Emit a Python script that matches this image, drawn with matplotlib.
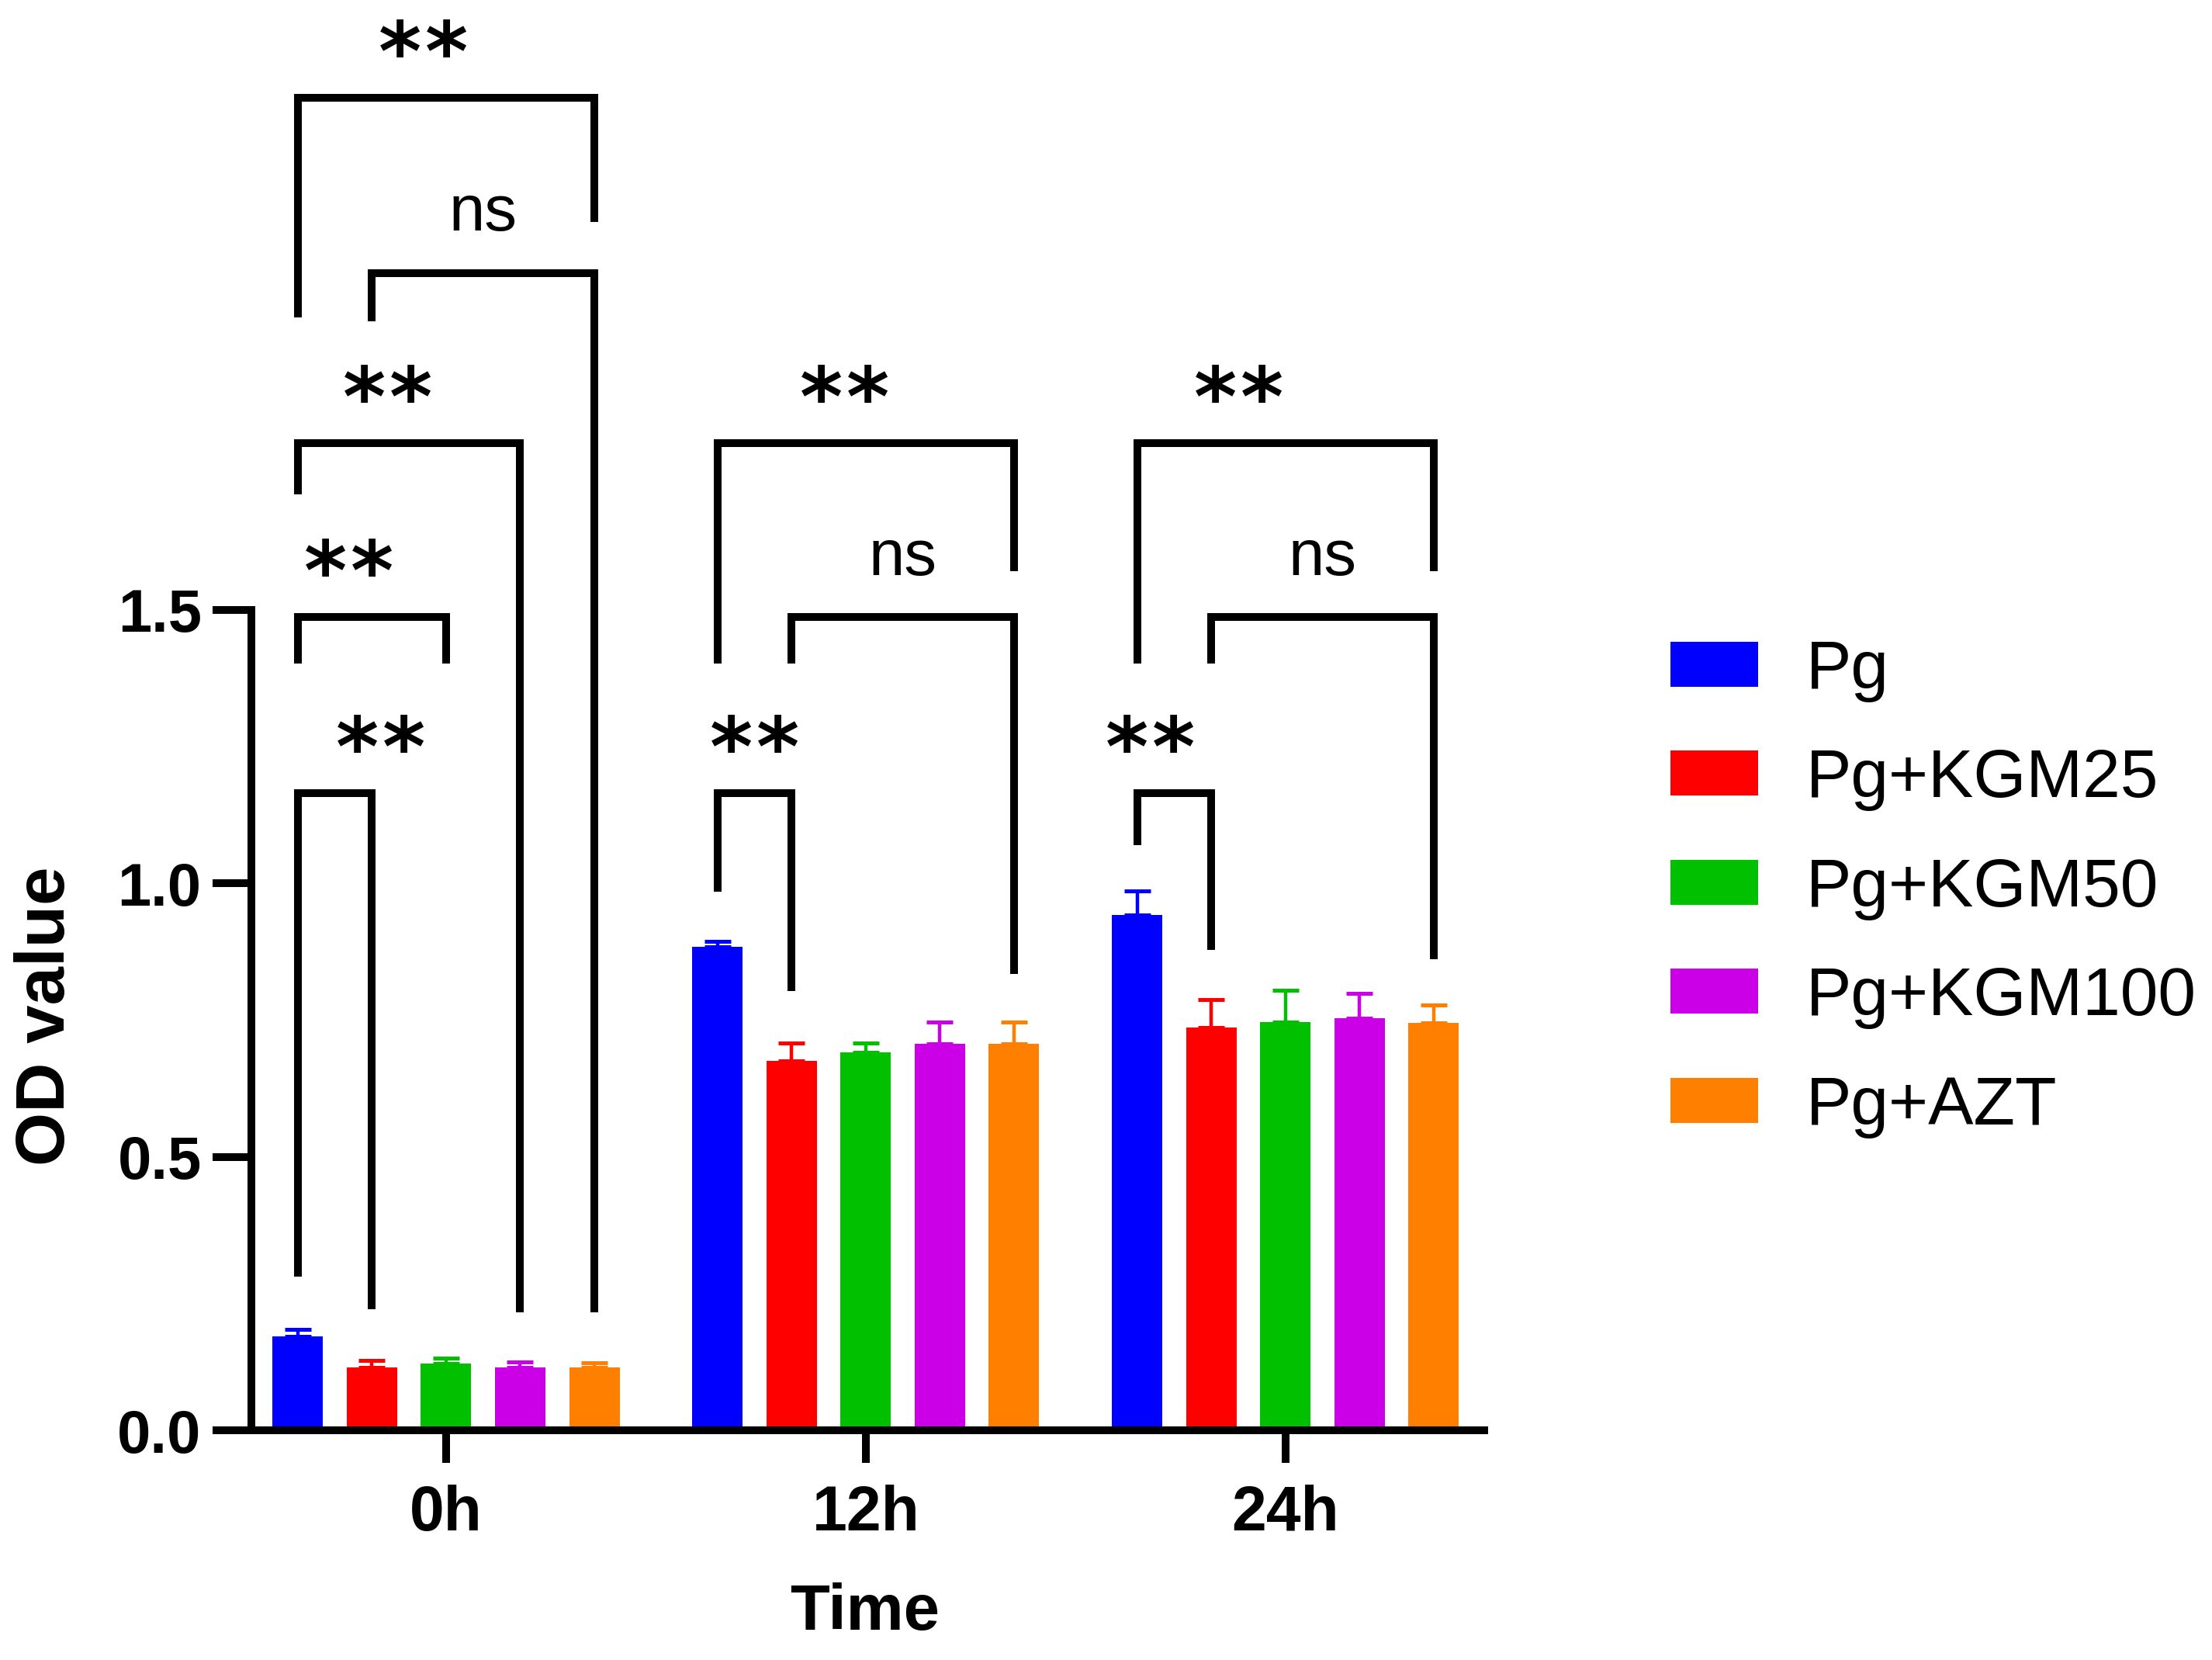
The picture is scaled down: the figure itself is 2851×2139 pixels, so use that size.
import numpy as np
import matplotlib
matplotlib.use("Agg")
import matplotlib.pyplot as plt
from matplotlib.patches import Patch

# ---- data ----
times = ["0h", "12h", "24h"]
groups = ["Pg", "Pg+KGM25", "Pg+KGM50", "Pg+KGM100", "Pg+AZT"]
colors = ["#0000FF", "#FF0000", "#00C000", "#CC00E6", "#FF8000"]

od_0h = [0.172, 0.116, 0.122, 0.116, 0.116]
od_12h = [0.884, 0.676, 0.691, 0.707, 0.707]
od_24h = [0.942, 0.736, 0.747, 0.754, 0.745]

sd_0h = [0.013, 0.012, 0.011, 0.009, 0.008]
sd_12h = [0.010, 0.032, 0.018, 0.040, 0.040]
sd_24h = [0.044, 0.052, 0.058, 0.045, 0.033]

means = np.array([od_0h, od_12h, od_24h])
sds = np.array([sd_0h, sd_12h, sd_24h])

# significance brackets: (time index, bar a, bar b, line height, leg end a, leg end b, label, label dx)
brackets = [
    (0, 0, 1, 1.165, 0.281, 0.222, "**", 0.62),
    (0, 0, 2, 1.487, 1.402, 1.402, "**", -0.31),
    (0, 0, 3, 1.804, 1.711, 0.216, "**", -0.29),
    (0, 1, 4, 2.116, 2.028, 0.216, "ns", 0.0),
    (0, 0, 4, 2.436, 2.034, 2.209, "**", -0.31),
    (1, 0, 1, 1.165, 0.985, 0.804, "**", 0.0),
    (1, 1, 4, 1.487, 1.402, 0.835, "ns", 0.0),
    (1, 0, 4, 1.804, 1.402, 1.570, "**", -0.29),
    (2, 0, 1, 1.165, 1.070, 0.879, "**", -0.32),
    (2, 1, 4, 1.487, 1.402, 0.861, "ns", 0.0),
    (2, 0, 4, 1.804, 1.402, 1.570, "**", -0.63),
]

plt.rcParams['font.family'] = ['Liberation Sans', 'DejaVu Sans']

fig = plt.figure(figsize=(14.255, 10.695), dpi=200)
ax = fig.add_axes([0.1135, 0.1382, 0.5574, 0.857])

gap = 5.66
centers = np.arange(len(times)) * gap
offsets = np.arange(len(groups)) - 2
width = 0.68

for k in range(len(groups)):
    xs = centers + offsets[k]
    ax.bar(xs, means[:, k], width, color=colors[k], label=groups[k], zorder=2)
    ax.errorbar(xs, means[:, k], yerr=[np.zeros(3), sds[:, k]], fmt="none",
                ecolor=colors[k], elinewidth=1.6, capsize=6, capthick=1.8, zorder=3)

lw = 3.6
for t, a, b, h, ya, yb, lab, dx in brackets:
    xa = centers[t] + offsets[a]
    xb = centers[t] + offsets[b]
    ax.plot([xa, xa, xb, xb], [ya, h, h, yb], color="black", lw=lw,
            solid_joinstyle="miter", solid_capstyle="butt", clip_on=False, zorder=4)
    xm = (xa + xb) / 2 + dx
    if lab == "ns":
        ax.text(xm, h + 0.108, lab, ha="center", va="center", fontsize=30)
    else:
        # two separate stars, spaced like the original
        for sx in (-0.315, 0.315):
            ax.text(xm + sx, h + 0.074, "*", ha="center", va="center", fontsize=38,
                    fontweight="bold", family="DejaVu Sans")

ax.set_xlim(-2.63, 14.0)
ax.set_ylim(0, 2.6)
for s in ["top", "right"]:
    ax.spines[s].set_visible(False)
ax.spines["left"].set_bounds(0, 1.5)
ax.spines["left"].set_linewidth(lw)
ax.spines["bottom"].set_linewidth(lw)
ax.set_yticks([0.0, 0.5, 1.0, 1.5])
ax.set_yticklabels(["0.0", "0.5", "1.0", "1.5"])
ax.set_xticks(centers)
ax.set_xticklabels(times)
ax.tick_params(axis="y", length=18, width=lw, pad=5, labelsize=28)
ax.tick_params(axis="x", length=15, width=lw, pad=10, labelsize=29)
for lab in ax.get_xticklabels() + ax.get_yticklabels():
    lab.set_fontweight("bold")

fig.text(0.021, 0.388, "OD value", rotation=90, ha="center", va="center",
         fontsize=32, fontweight="bold")
fig.text(0.391, 0.0285, "Time", ha="center", va="center", fontsize=30, fontweight="bold")

handles = [Patch(facecolor=c, label=g) for c, g in zip(colors, groups)]
fig.legend(handles=handles, loc="upper left", bbox_to_anchor=(0.755, 0.615),
           frameon=False, fontsize=31.5, handlelength=1.3, handleheight=0.64,
           handletextpad=0.7, labelspacing=0.68, borderpad=0, borderaxespad=0)

fig.savefig("out.png", dpi=200)
